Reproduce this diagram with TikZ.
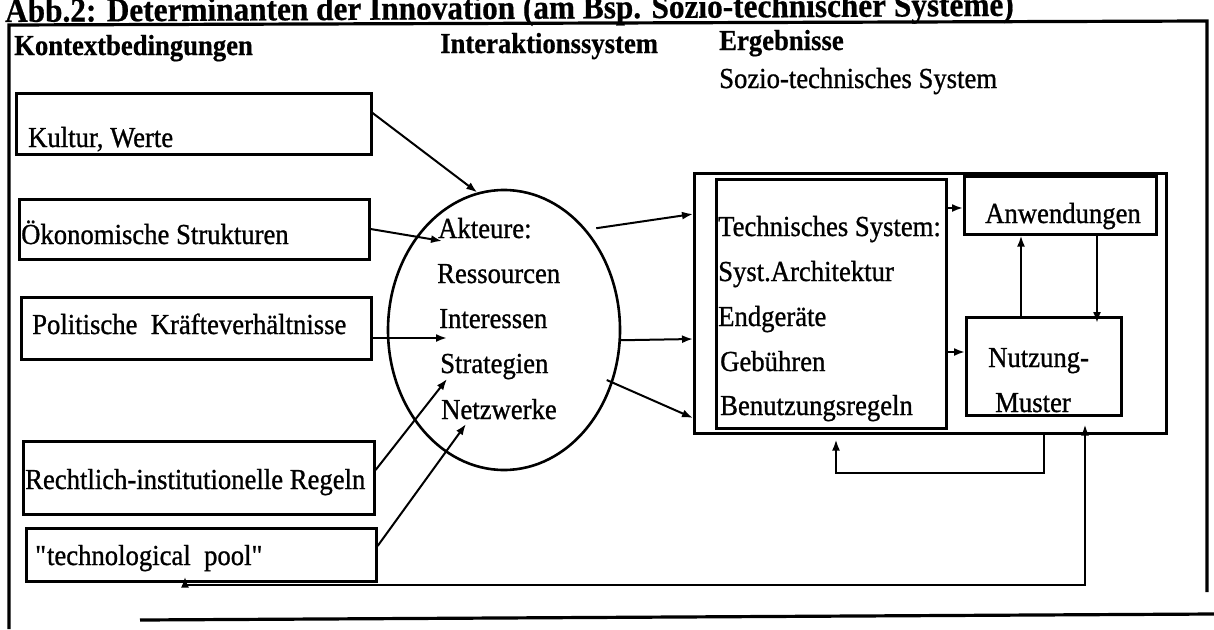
\documentclass[tikz,border=0pt]{standalone}
\usepackage{fontspec}
\setmainfont{Liberation Serif}[FakeStretch=0.92, UprightFeatures={FakeBold=0.9}, BoldFeatures={FakeBold=0.6}]
\usetikzlibrary{arrows.meta,calc,shapes.geometric}
\begin{document}
\begin{tikzpicture}[x=1pt,y=-1pt,
  box/.style={draw, line width=2.6pt, inner sep=0pt, anchor=north west},
  txt/.style={inner sep=0pt, anchor=base west, font=\fontsize{29}{32}\selectfont},
  head/.style={inner sep=0pt, anchor=base west, font=\fontsize{29}{32}\selectfont\bfseries},
  arr/.style={line width=2pt, -{Latex[length=11pt,width=8pt]}},
  darr/.style={line width=2pt, {Latex[length=11pt,width=8pt]}-{Latex[length=11pt,width=8pt]}},
  frame/.style={line width=3.2pt}
]
\useasboundingbox (0,0) rectangle (1214,629);

% title and frame
\node[inner sep=0pt, anchor=base west, rotate=0.35, font=\fontsize{34}{36}\selectfont\bfseries] (title) at (5,22)
  {Abb.2: Determinanten der Innovation (am Bsp. Sozio-technischer Systeme)};
\draw[frame] (9,629) -- (9,25) -- (1207,21) -- (1207,592);
\draw[frame] (140,620) -- (1214,614);

% headers
\node[head] (hkontext) at (14,55) {Kontextbedingungen};
\node[head] (hinter) at (440,53) {Interaktionssystem};
\node[head] (herg) at (719,50) {Ergebnisse};
\node[txt] (hsozio) at (719,88) {Sozio-technisches System};

% left boxes
\node[box, minimum width=355, minimum height=61] (kultur) at (15,92) {};
\node[txt] (tkultur) at (28,147) {Kultur, Werte};
\node[box, minimum width=350, minimum height=60] (oekon) at (18,198) {};
\node[txt] (toekon) at (21,244) {Ökonomische Strukturen};
\node[box, minimum width=350, minimum height=62] (polit) at (20,296) {};
\node[txt] (tpolit) at (32,334) {Politische\ \ Kräfteverhältnisse};
\node[box, minimum width=351, minimum height=73] (recht) at (22,440) {};
\node[txt] (trecht) at (25,489) {Rechtlich-institutionelle Regeln};
\node[box, minimum width=350, minimum height=53] (pool) at (25,527) {};
\node[txt] (tpool) at (35,565) {\textquotedbl technological\ \ pool\textquotedbl};

% ellipse
\node[draw, ellipse, line width=2.6pt, minimum width=232, minimum height=280, inner sep=0pt] (ell) at (504,330) {};
\node[txt] (akt) at (438,238) {Akteure:};
\node[txt] (ress) at (437,283) {Ressourcen};
\node[txt] (inter) at (439,328) {Interessen};
\node[txt] (strat) at (440,373) {Strategien};
\node[txt] (netz) at (441,419) {Netzwerke};

% results
\node[box, minimum width=472, minimum height=260] (sozio) at (693,172) {};
\node[box, minimum width=230, minimum height=249] (tech) at (715,178) {};
\node[txt] (t1) at (718,236) {Technisches System:};
\node[txt] (t2) at (718,281) {Syst.Architektur};
\node[txt] (t3) at (718,326) {Endgeräte};
\node[txt] (t4) at (720,371) {Gebühren};
\node[txt] (t5) at (720,415) {Benutzungsregeln};
\node[box, minimum width=192, minimum height=58] (anw) at (963,175) {};
\node[txt] (tanw) at (985,223) {Anwendungen};
\node[box, minimum width=155, minimum height=98] (nutz) at (965,316) {};
\node[txt] (tnutz1) at (988,367) {Nutzung-};
\node[txt] (tnutz2) at (995,412) {Muster};

% arrows into ellipse
\draw[arr] (kultur.east |- 0,113) -- (ell.101);
\draw[arr] (oekon.east |- 0,229) -- ([shift={(4,3)}]akt.base west);
\draw[arr] (polit.east |- 0,338) -- ([shift={(8,10)}]inter.base west);
\draw[arr] (recht.east |- 0,470) -- ([shift={(7,6)}]strat.base west);
\draw[arr] (pool.east |- 0,546) -- ([shift={(25,5)}]netz.base west);

% arrows out of ellipse
\draw[arr] ([shift={(6,-6)}]ell.48) -- (sozio.west |- 0,214);
\draw[arr] (ell.-5) -- (sozio.west |- 0,339);
\draw[arr] ([shift={(-6,-3)}]ell.-26) -- (sozio.west |- 0,418);

% inside results
\draw[arr] (tech.east |- 0,208) -- (anw.west |- 0,208);
\draw[arr] (tech.east |- 0,352) -- (nutz.west |- 0,352);
\draw[arr] (nutz.north -| 1021,0) -- (anw.south -| 1021,0);
\draw[arr] (anw.south -| 1097,0) -- ([yshift=-7pt]nutz.north -| 1097,0);

% feedback loops
\draw[arr] (sozio.south -| 1044,0) -- ++(0,38) -| ([yshift=-5pt]sozio.south -| 836,0);
\draw[darr] ([yshift=6pt]pool.south -| 185,0) |- (1085,585) -- ([yshift=-8pt]nutz.south -| 1085,0);
\end{tikzpicture}
\end{document}
